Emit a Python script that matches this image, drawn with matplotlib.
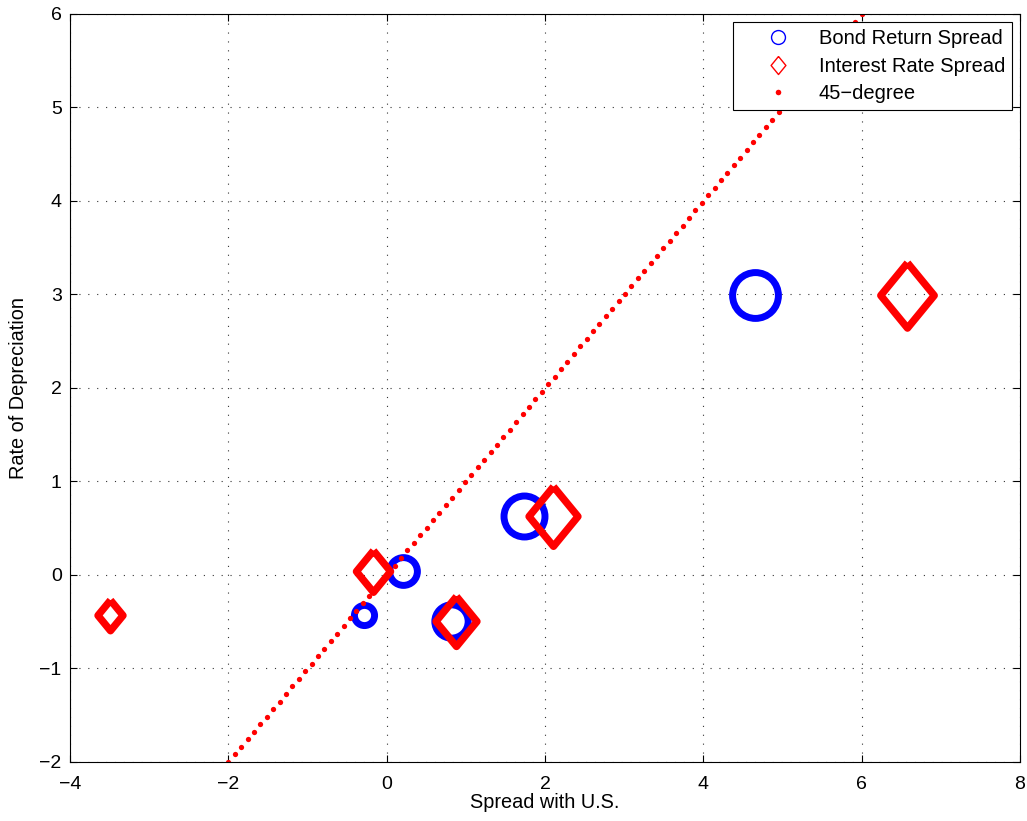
import numpy as np
import matplotlib
matplotlib.use('Agg')
import matplotlib.pyplot as plt
from matplotlib.lines import Line2D
from matplotlib.markers import MarkerStyle

plt.rcParams['font.family'] = ['Liberation Sans', 'DejaVu Sans']

# bond return spread vs rate of depreciation
bond_x = [4.65, 1.73, 0.20, -0.29, 0.81]
bond_y = [2.99, 0.63, 0.04, -0.43, -0.49]
bond_ms = [33, 29.5, 20, 14.5, 24]

# interest rate spread vs rate of depreciation
rate_x = [6.57, 2.10, -0.17, -3.50, 0.87]
rate_y = [2.99, 0.63, 0.04, -0.43, -0.49]
rate_ms = [47, 43, 30, 22, 36]

# 45-degree reference (dotted)
deg_x = np.linspace(-2, 6, 100)
deg_y = deg_x

xticks = [-4, -2, 0, 2, 4, 6, 8]
yticks = [-2, -1, 0, 1, 2, 3, 4, 5, 6]

# matlab-ish diamond (a bit taller than wide)
diamond = MarkerStyle([(0, 1), (0.82, 0), (0, -1), (-0.82, 0), (0, 1)], joinstyle='miter')

fig = plt.figure(figsize=(10.27, 8.21), dpi=100)
ax = fig.add_axes([0.0682, 0.0719, 0.925, 0.9111])

for x, y, ms in zip(bond_x, bond_y, bond_ms):
    ax.plot(x, y, 'o', mfc='none', mec='#0000ff', ms=ms, mew=5)
for x, y, ms in zip(rate_x, rate_y, rate_ms):
    ax.plot(x, y, marker=diamond, ls='none', mfc='none', mec='#ff0000', ms=ms, mew=5.3)
ax.plot(deg_x, deg_y, 'o', color='#ff0000', ms=3.8, mew=0)

ax.set_xlim(-4, 8)
ax.set_ylim(-2, 6)
ax.set_xticks(xticks)
ax.set_yticks(yticks)
ax.tick_params(direction='in', top=True, right=True, length=5, labelsize=14, colors='black')
ax.tick_params(axis='x', pad=10)
ax.tick_params(axis='y', pad=6)
ax.grid(True, color='#333333', linestyle=(0, (1, 7)), linewidth=0.8)
for s in ax.spines.values():
    s.set_linewidth(0.8)

ax.set_xlabel('Spread with U.S.', fontsize=14.3, labelpad=0)
ax.set_ylabel('Rate of Depreciation', fontsize=14.3, labelpad=8)

handles = [
    Line2D([], [], ls='none', marker='o', mfc='none', mec='#0000ff', ms=10, mew=1),
    Line2D([], [], ls='none', marker=diamond, mfc='none', mec='#ff0000', ms=13, mew=1),
    Line2D([], [], ls='none', marker='o', color='#ff0000', ms=4, mew=0),
]
labels = ['Bond Return Spread', 'Interest Rate Spread', '45\u2212degree']
leg = ax.legend(handles, labels, loc='upper right', bbox_to_anchor=(0.9916, 0.989),
                borderaxespad=0, fontsize=14.5, fancybox=False, framealpha=1,
                edgecolor='black', handletextpad=0.1, handlelength=3.8,
                labelspacing=0.42, borderpad=0.35)
leg.get_frame().set_linewidth(0.8)

fig.savefig('out.png', dpi=100)
